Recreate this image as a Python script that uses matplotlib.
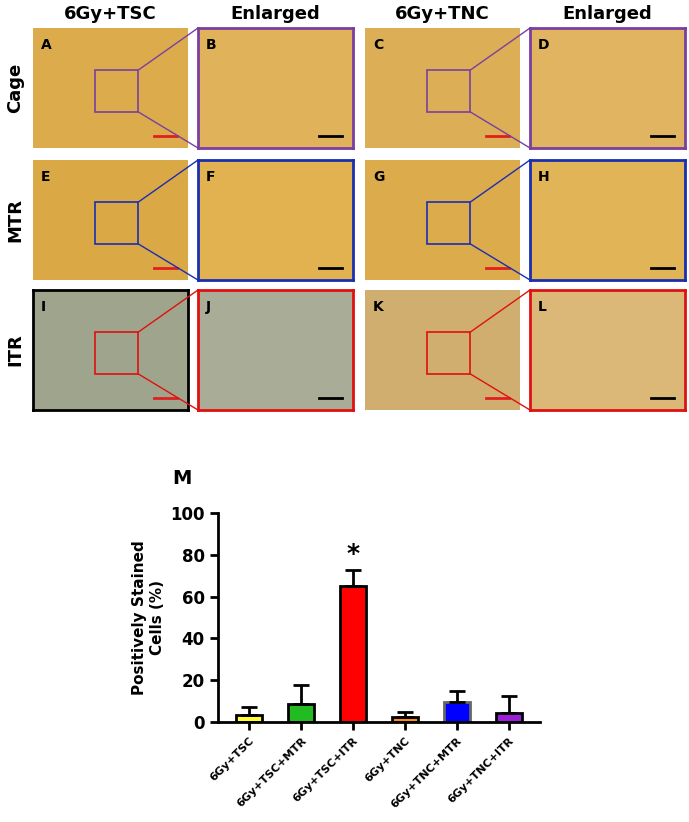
import matplotlib
matplotlib.use("Agg")
import matplotlib.pyplot as plt
import matplotlib.patches as patches

# Bar chart data (panel M)
groups = ["6Gy+TSC", "6Gy+TSC+MTR", "6Gy+TSC+ITR", "6Gy+TNC", "6Gy+TNC+MTR", "6Gy+TNC+ITR"]
means = [3.5, 8.5, 65.0, 2.5, 9.5, 4.5]
errors = [3.5, 9.0, 7.5, 2.5, 5.5, 8.0]
colors = ["#ffff33", "#22bb22", "#ff0000", "#ff8c1a", "#0000ff", "#9b1fd6"]
edges = ["black", "black", "black", "black", "#666666", "black"]

# Image panel grid
col_titles = ["6Gy+TSC", "Enlarged", "6Gy+TNC", "Enlarged"]
row_titles = ["Cage", "MTR", "ITR"]
letters = ["A", "B", "C", "D", "E", "F", "G", "H", "I", "J", "K", "L"]
panel_edge = ["none", "#7a3fa0", "none", "#7a3fa0",
              "none", "#1a2fb0", "none", "#1a2fb0",
              "black", "#e01010", "none", "#e01010"]
panel_bg = ["#dcab4c", "#e0b25a", "#dcae55", "#e0b460",
            "#dba846", "#e2b250", "#dcab4c", "#e2b458",
            "#9ea58c", "#a9ad98", "#cfae70", "#dcb878"]

W, H = 689, 822
fig = plt.figure(figsize=(W / 100, H / 100), dpi=100)

def px(x0, y0, w, h):
    return [x0 / W, 1 - (y0 + h) / H, w / W, h / H]

col_x = [33, 198, 365, 530]
row_y = [28, 160, 290]
pw, ph = 155, 120

for r in range(3):
    for c in range(4):
        i = r * 4 + c
        ax = fig.add_axes(px(col_x[c], row_y[r], pw, ph))
        ax.set_xlim(0, 1)
        ax.set_ylim(0, 1)
        ax.set_facecolor(panel_bg[i])
        ax.set_xticks([])
        ax.set_yticks([])
        for s in ax.spines.values():
            if panel_edge[i] == "none":
                s.set_visible(False)
            else:
                s.set_color(panel_edge[i])
                s.set_linewidth(2)
        ax.text(0.05, 0.92, letters[i], transform=ax.transAxes, fontsize=10,
                fontweight="bold", va="top", color="black")
        # scale bar
        ax.plot([0.78, 0.93], [0.1, 0.1], color="black" if c % 2 else "#e02020", lw=2)
        if c % 2 == 0:
            ec = panel_edge[i + 1]
            rect = patches.Rectangle((0.4, 0.3), 0.28, 0.35, fill=False, edgecolor=ec, lw=1.2)
            ax.add_patch(rect)

# connector lines from inset boxes to enlarged panels
for r in range(3):
    for c in (0, 2):
        ec = panel_edge[r * 4 + c + 1]
        x1 = col_x[c] + 0.68 * pw
        ya = row_y[r] + (1 - 0.65) * ph
        yb = row_y[r] + (1 - 0.3) * ph
        x2 = col_x[c + 1]
        for y1, y2 in ((ya, row_y[r]), (yb, row_y[r] + ph)):
            fig.add_artist(plt.Line2D([x1 / W, x2 / W], [1 - y1 / H, 1 - y2 / H],
                                      color=ec, lw=1))

for c, t in enumerate(col_titles):
    fig.text((col_x[c] + pw / 2) / W, 1 - 14 / H, t, ha="center", va="center",
             fontsize=13, fontweight="bold")
for r, t in enumerate(row_titles):
    fig.text(15 / W, 1 - (row_y[r] + ph / 2) / H, t, ha="center", va="center",
             rotation=90, fontsize=13, fontweight="bold")

# Panel M bar chart
axm = fig.add_axes(px(218, 513, 322, 209))
x = list(range(len(groups)))
axm.bar(x, means, width=0.5, color=colors, edgecolor=edges, linewidth=2,
        yerr=[[0] * len(errors), errors], capsize=6,
        error_kw=dict(elinewidth=2, capthick=2, ecolor="black"))
axm.set_ylim(0, 100)
axm.set_xlim(-0.6, 5.6)
axm.set_yticks([0, 20, 40, 60, 80, 100])
axm.set_xticks(x)
axm.set_xticklabels(groups, rotation=45, ha="right", rotation_mode="anchor",
                    fontsize=8, fontweight="bold")
axm.tick_params(axis="y", labelsize=12, width=2, length=6)
axm.tick_params(axis="x", width=2, length=6)
for lab in axm.get_yticklabels():
    lab.set_fontweight("bold")
axm.spines["top"].set_visible(False)
axm.spines["right"].set_visible(False)
axm.spines["left"].set_linewidth(2)
axm.spines["bottom"].set_linewidth(2)
axm.set_ylabel("Positively Stained\nCells (%)", fontsize=11, fontweight="bold")
axm.text(2, means[2] + errors[2] + 2, "*", ha="center", va="bottom",
         fontsize=18, fontweight="bold")
fig.text(172 / W, 1 - 478 / H, "M", fontsize=14, fontweight="bold", va="center")

fig.savefig("out.png", dpi=100)
